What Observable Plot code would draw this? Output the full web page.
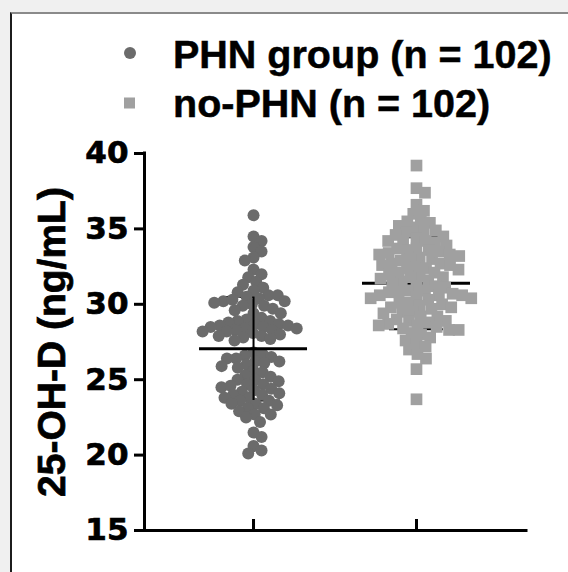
<!DOCTYPE html>
<html>
<head>
<meta charset="utf-8">
<script src="https://cdn.jsdelivr.net/npm/d3@7"></script>
<script src="https://cdn.jsdelivr.net/npm/@observablehq/plot@0.6"></script>
<style>
  html, body { margin: 0; padding: 0; background: #f0f0f0; }
  #wrap { position: relative; width: 568px; height: 572px; overflow: hidden; }
  #panel { position: absolute; left: 10px; top: 12px; width: 600px; height: 600px; background: #fff;
           border-left: 2px solid #1c1c1c; border-top: 2px solid #8a8a8a; box-sizing: border-box; }
  #chart { position: absolute; left: 0; top: 0; }
  #legend { position: absolute; left: 0; top: 0; }
</style>
</head>
<body>
<div id="wrap">
  <div id="panel"></div>
  <div id="chart"></div>
  <svg id="legend" width="568" height="130"></svg>
</div>
<script>
// ---------------- data ----------------
const groups = ["PHN group", "no-PHN"];
const legendLabels = ["PHN group (n = 102)", "no-PHN (n = 102)"];
const yLabel = "25-OH-D (ng/mL)";
const yTicks = [15, 20, 25, 30, 35, 40];

const phnValues = [
  35.9, 34.5, 34.2, 33.8, 33.5, 33.1, 32.9, 32.3, 32.0, 31.8,
  31.5, 31.3, 31.1, 30.9, 30.8, 30.6, 30.6, 30.5, 30.4, 30.2,
  30.3, 30.1, 30.2, 30.0, 29.9, 29.9, 29.7, 29.6, 29.4, 29.4,
  29.1, 29.0, 28.9, 28.9, 28.8, 28.7, 28.7, 28.6, 28.6, 28.5,
  28.4, 28.5, 28.3, 28.4, 28.2, 28.3, 28.2, 28.0, 28.1, 27.9,
  27.9, 27.7, 27.8, 27.6, 26.8, 26.7, 26.6, 26.4, 26.5, 26.4,
  26.2, 26.2, 26.0, 26.1, 25.8, 25.9, 25.6, 25.5, 25.3, 25.2,
  25.0, 25.0, 24.9, 24.7, 24.7, 24.5, 24.6, 24.4, 24.3, 24.1,
  24.2, 24.0, 24.0, 23.8, 23.8, 23.6, 23.6, 23.4, 23.4, 23.3,
  23.1, 23.1, 22.9, 22.7, 22.7, 22.5, 22.2, 21.5, 21.2, 20.6,
  20.3, 20.1
];
const noPhnValues = [
  39.2, 37.7, 37.4, 36.6, 36.2, 36.0, 35.6, 35.5, 35.4, 35.2,
  35.1, 34.9, 34.9, 34.8, 34.6, 34.5, 34.4, 34.2, 34.2, 34.2,
  34.1, 33.9, 33.7, 33.7, 33.6, 33.6, 33.5, 33.4, 33.3, 33.3,
  33.2, 33.1, 33.0, 33.0, 32.9, 32.7, 32.7, 32.6, 32.6, 32.5,
  32.4, 32.4, 32.3, 32.1, 32.1, 32.0, 31.9, 31.8, 31.8, 31.7,
  31.6, 31.5, 31.4, 31.2, 31.2, 31.1, 30.9, 30.9, 30.8, 30.8,
  30.7, 30.6, 30.6, 30.6, 30.5, 30.4, 30.4, 30.3, 30.1, 30.1,
  30.0, 29.9, 29.8, 29.8, 29.7, 29.5, 29.5, 29.4, 29.2, 29.2,
  29.0, 28.9, 28.9, 28.8, 28.7, 28.6, 28.6, 28.5, 28.4, 28.3,
  28.3, 28.1, 28.0, 27.8, 27.6, 27.4, 27.2, 27.0, 26.7, 26.4,
  25.7, 23.7
];
const groupMeans = [27.05, 31.4];
const groupSDs = [3.43, 3.05];

// ---------------- layout / style ----------------
const W = 568, H = 572;
const mL = 144, mR = 42, mT = 153, mB = 42;
const xDomain = [0.331, 2.675];
const yDomain = [15, 40];
const centers = [1, 2];
const darkGray = "#6b6b6b", lightGray = "#a0a0a0";
const FONT = "'Liberation Sans', Arial, Helvetica, sans-serif";
const TICKFONT = "'DejaVu Sans', 'Liberation Sans', Arial, sans-serif";

const yPx = d3.scaleLinear(yDomain, [H - mB, mT]);
const pxPerX = (W - mL - mR) / (xDomain[1] - xDomain[0]);

// beeswarm offsets (pixels) computed from the values
function swarm(values, dist) {
  const order = values.map((v, i) => ({v, i})).sort((a, b) => b.v - a.v);
  const placed = [];
  const off = new Array(values.length).fill(0);
  for (const {v, i} of order) {
    const py = yPx(v);
    const cands = [0];
    for (const p of placed) {
      const dy = py - p.y;
      if (Math.abs(dy) < dist) {
        const dx = Math.sqrt(dist * dist - dy * dy) + 0.01;
        cands.push(p.x + dx, p.x - dx);
      }
    }
    cands.sort((a, b) => Math.abs(a) - Math.abs(b));
    let chosen = 0;
    for (const c of cands) {
      if (placed.every(p => (p.x - c) ** 2 + (p.y - py) ** 2 >= dist * dist - 0.001)) { chosen = c; break; }
    }
    placed.push({x: chosen, y: py});
    off[i] = chosen;
  }
  return off;
}

const phnOff = swarm(phnValues, 9.2);
const noOff = swarm(noPhnValues, 9.6);
const phnRows = phnValues.map((v, i) => ({group: groups[0], value: v, x: centers[0] + phnOff[i] / pxPerX}));
const noRows = noPhnValues.map((v, i) => ({group: groups[1], value: v, x: centers[1] + noOff[i] / pxPerX}));

const stats = groups.map((g, i) => ({group: g, c: centers[i], mean: groupMeans[i], lo: groupMeans[i] - groupSDs[i], hi: groupMeans[i] + groupSDs[i]}));
const meanHalf = 54 / pxPerX, capHalf = 27 / pxPerX;
const tickTop = yPx.invert(H - mB - 11);

const capMarks = s => [
  Plot.ruleY([s], {y: "hi", x1: d => d.c - capHalf, x2: d => d.c + capHalf, stroke: "#000", strokeWidth: 2}),
  Plot.ruleY([s], {y: "lo", x1: d => d.c - capHalf, x2: d => d.c + capHalf, stroke: "#000", strokeWidth: 2})
];
const stemMeanMarks = s => [
  Plot.ruleX([s], {x: "c", y1: "lo", y2: "hi", stroke: "#000", strokeWidth: 2}),
  Plot.ruleY([s], {y: "mean", x1: d => d.c - meanHalf, x2: d => d.c + meanHalf, stroke: "#000", strokeWidth: 3})
];

const chart = Plot.plot({
  width: W, height: H,
  marginLeft: mL, marginRight: mR, marginTop: mT, marginBottom: mB,
  style: {background: "transparent", fontFamily: FONT, fontWeight: "bold", overflow: "visible"},
  x: {domain: xDomain, axis: null},
  y: {domain: yDomain, axis: null},
  marks: [
    ...capMarks(stats[0]),
    Plot.dot(phnRows, {x: "x", y: "value", r: 6, fill: darkGray, symbol: "circle"}),
    ...stemMeanMarks(stats[0]),
    ...capMarks(stats[1]),
    ...stemMeanMarks(stats[1]),
    Plot.dot(noRows, {x: "x", y: "value", r: 6.6, fill: lightGray, symbol: "square"}),
    Plot.ruleX(centers, {y1: yDomain[0], y2: tickTop, stroke: "#000", strokeWidth: 3}),
    Plot.ruleY([yDomain[0]], {stroke: "#000", strokeWidth: 3, strokeLinecap: "square"}),
    Plot.ruleX([xDomain[0]], {stroke: "#000", strokeWidth: 3, strokeLinecap: "square"}),
    Plot.axisY({
      ticks: yTicks, tickSize: 10, tickPadding: 6, strokeWidth: 3,
      fontSize: 31, fontWeight: "bold", fontFamily: TICKFONT, fill: "#000",
      label: null
    }),
    Plot.axisY({
      ticks: [], tickSize: 0,
      fontSize: 39, fontWeight: "bold", fontFamily: FONT, fill: "#000",
      label: yLabel, labelAnchor: "center", labelOffset: 107, labelArrow: false
    })
  ]
});
document.getElementById("chart").appendChild(chart);

// slightly heavier lettering, as in the reference
chart.querySelectorAll("text").forEach(t => {
  t.setAttribute("stroke", "#000");
  t.setAttribute("stroke-width", "0.7");
  t.setAttribute("paint-order", "stroke");
});

// legend
const leg = d3.select("#legend");
const rows = [
  {label: legendLabels[0], y: 68, cy: 53, marker: "circle", color: darkGray},
  {label: legendLabels[1], y: 117, cy: 103, marker: "square", color: lightGray}
];
rows.forEach(r => {
  if (r.marker === "circle") leg.append("circle").attr("cx", 130).attr("cy", r.cy).attr("r", 6).attr("fill", r.color);
  else leg.append("rect").attr("x", 124).attr("y", r.cy - 5.5).attr("width", 11).attr("height", 11).attr("fill", r.color);
  leg.append("text").attr("x", 173).attr("y", r.y)
    .attr("font-family", FONT).attr("font-weight", "bold").attr("font-size", 39.5).attr("fill", "#000")
    .attr("stroke", "#000").attr("stroke-width", 0.5).attr("paint-order", "stroke")
    .text(r.label);
});
</script>
</body>
</html>
